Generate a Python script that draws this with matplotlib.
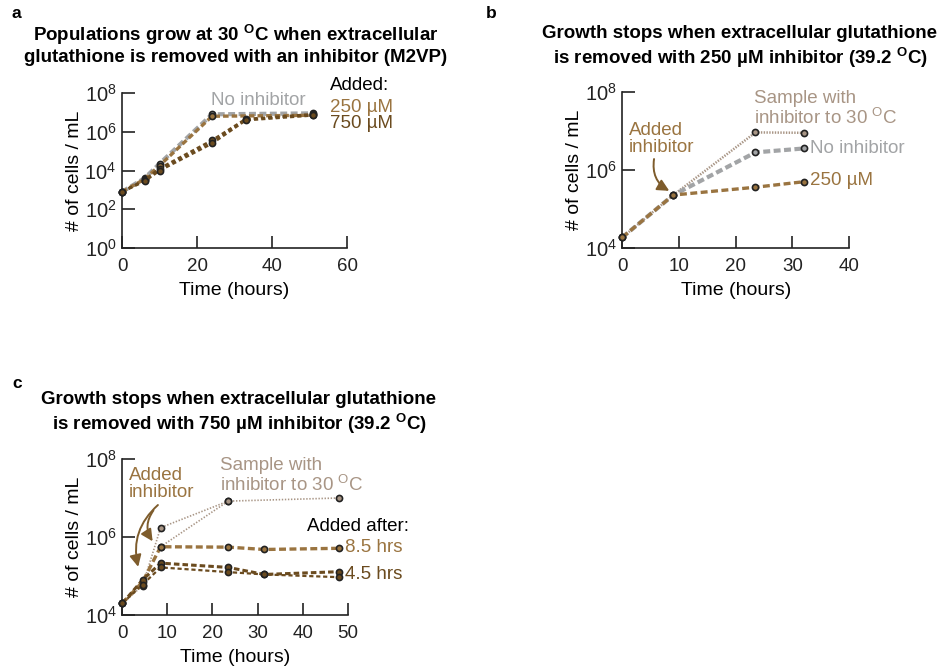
import matplotlib
matplotlib.use("Agg")
import matplotlib.pyplot as plt

plt.rcParams["font.family"] = ["Liberation Sans", "DejaVu Sans"]
plt.rcParams["mathtext.fontset"] = "custom"
plt.rcParams["mathtext.rm"] = "Liberation Sans"
plt.rcParams["mathtext.bf"] = "Liberation Sans:bold"
plt.rcParams["lines.scale_dashes"] = False

GRAY = "#a2a4a6"
LIGHT = "#9a7440"
DARK = "#6b4b1f"
TAUPE = "#a89585"
ARROW = "#7e5c2c"

# values are log10(cells / mL)
# panel a
time_a = [0, 6, 10, 24, 51]
no_inh_a = [2.9, 3.6, 4.35, 6.9, 6.95]
um250_a = [2.9, 3.55, 4.25, 6.8, 6.85]
time_a750 = [0, 6, 10, 24, 33, 51]
um750_a_rep1 = [2.9, 3.5, 4.1, 5.55, 6.65, 6.9]
um750_a_rep2 = [2.9, 3.45, 4.0, 5.4, 6.6, 6.85]

# panel b
time_b = [0, 9, 23.5, 32]
no_inh_b = [4.28, 5.36, 6.45, 6.55]
um250_b = [4.28, 5.36, 5.56, 5.70]
sample30_b = [4.28, 5.36, 6.96, 6.95]

# panel c
time_c = [0, 4.5, 8.5, 23.5, 31.5, 48]
hrs85_c = [4.3, 4.85, 5.75, 5.74, 5.68, 5.71]
hrs45_c_rep1 = [4.3, 4.9, 5.33, 5.22, 5.04, 5.11]
hrs45_c_rep2 = [4.3, 4.78, 5.22, 5.1, 5.04, 4.97]
time_c30a = [0, 4.5, 8.5, 23.5, 48]
sample30_c_a = [4.3, 4.75, 6.24, 6.92, 7.0]
time_c30b = [8.5, 23.5]
sample30_c_b = [5.75, 6.92]

W, H = 948, 666
LABEL_FS = 13.5
fig = plt.figure(figsize=(W / 100, H / 100), dpi=100)


def box(left, right, top, bottom):
    return [left / W, 1 - bottom / H, (right - left) / W, (bottom - top) / H]


def style(ax, xticks, yticks):
    ax.set_yscale("log")
    ax.set_xlim(xticks[0], xticks[-1])
    ax.set_ylim(10.0 ** yticks[0], 10.0 ** yticks[-1])
    ax.set_xticks(xticks)
    ax.set_xticklabels([str(t) for t in xticks])
    ax.set_yticks([10.0 ** e for e in yticks])
    ax.set_yticklabels([r"$\mathregular{10^{%d}}$" % e for e in yticks])
    ax.minorticks_off()
    ax.tick_params(direction="in", length=9, width=1.2, labelsize=13.5, pad=4, colors="#222")
    ax.tick_params(axis="y", labelsize=14.5)
    ax.tick_params(axis="x", pad=7)
    for s in ["top", "right"]:
        ax.spines[s].set_visible(False)
    for s in ["left", "bottom"]:
        ax.spines[s].set_linewidth(1.2)
        ax.spines[s].set_color("#222")
    ax.set_xlabel("Time (hours)", fontsize=14, labelpad=5)
    ax.set_ylabel("# of cells / mL", fontsize=14, labelpad=1)
    ax.patch.set_alpha(0)


def series(ax, t, logv, color, lw, dashes, ms=4.4):
    ax.plot(t, [10.0 ** v for v in logv], color=color, lw=lw, dashes=dashes,
            marker="o", ms=ms, mfc=color, mec="#222", mew=1.2, clip_on=False, zorder=3)


def label(ax, x, logy, text, color, **kw):
    ax.text(x, 10 ** logy, text, color=color, fontsize=LABEL_FS, ha="left", va="center",
            linespacing=1.0, **kw)


def arrow(ax, head, tail, rad):
    ax.annotate("", xy=(head[0], 10 ** head[1]), xytext=(tail[0], 10 ** tail[1]),
                arrowprops=dict(arrowstyle="-|>,head_length=0.7,head_width=0.35", color=ARROW,
                                lw=1.4, shrinkA=0, shrinkB=1,
                                connectionstyle="arc3,rad=%s" % rad))


# ---- panel a ----
ax = fig.add_axes(box(122, 347, 93, 248))
series(ax, time_a, no_inh_a, GRAY, 3.0, (5, 2.5))
series(ax, time_a, um250_a, LIGHT, 2.4, (4, 2.2))
series(ax, time_a750, um750_a_rep1, DARK, 2.0, (3, 2.2))
series(ax, time_a750, um750_a_rep2, DARK, 2.0, (3, 2.2))
style(ax, [0, 20, 40, 60], [0, 2, 4, 6, 8])
ax.text(36.3, 10 ** 7.63, "No inhibitor", color=GRAY, fontsize=LABEL_FS, ha="center", va="center")
label(ax, 55.5, 8.4, "Added:", "black", clip_on=False)
label(ax, 55.5, 7.27, "250 µM", LIGHT)
label(ax, 55.5, 6.44, "750 µM", DARK)
fig.text(236 / W, 1 - 44 / H,
         "Populations grow at 30 $^{\\mathbf{O}}$C when extracellular\n"
         "glutathione is removed with an inhibitor (M2VP)",
         ha="center", va="center", fontsize=13.5, fontweight="bold", linespacing=1.12)
fig.text(12 / W, 1 - 13 / H, "a", fontsize=12.5, fontweight="bold", va="center")

# ---- panel b ----
ax = fig.add_axes(box(622.3, 849, 91.7, 248.3))
series(ax, time_b, sample30_b, TAUPE, 1.8, (1, 1))
series(ax, time_b, no_inh_b, GRAY, 3.0, (5, 2.5))
series(ax, time_b, um250_b, LIGHT, 2.4, (5, 2.5))
style(ax, [0, 10, 20, 30, 40], [4, 6, 8])
label(ax, 23.2, 7.55, "Sample with\ninhibitor to 30 $^{\\mathrm{O}}$C", TAUPE)
label(ax, 33.2, 6.56, "No inhibitor", GRAY)
label(ax, 33.2, 5.72, "250 µM", LIGHT)
label(ax, 1.2, 6.79, "Added\ninhibitor", LIGHT)
arrow(ax, (8.5, 5.45), (5.6, 6.28), 0.35)
fig.text(740 / W, 1 - 47.5 / H,
         "Growth stops when extracellular glutathione\n"
         "is removed with 250 µM inhibitor (39.2 $^{\\mathbf{O}}$C)",
         ha="center", va="center", fontsize=13.5, fontweight="bold", linespacing=1.12)
fig.text(486 / W, 1 - 13 / H, "b", fontsize=12.5, fontweight="bold", va="center")

# ---- panel c ----
ax = fig.add_axes(box(122.3, 347.7, 459, 615))
series(ax, time_c30a, sample30_c_a, TAUPE, 1.2, (1, 1.2))
series(ax, time_c30b, sample30_c_b, TAUPE, 1.2, (1, 1.2))
series(ax, time_c, hrs85_c, LIGHT, 2.4, (5, 2.5))
series(ax, time_c, hrs45_c_rep1, DARK, 2.2, (4, 2.2))
series(ax, time_c, hrs45_c_rep2, DARK, 1.6, (3, 2))
style(ax, [0, 10, 20, 30, 40, 50], [4, 6, 8])
label(ax, 21.7, 7.56, "Sample with\ninhibitor to 30 $^{\\mathrm{O}}$C", TAUPE)
label(ax, 40.9, 6.26, "Added after:", "black")
label(ax, 49.4, 5.74, "8.5 hrs", LIGHT)
label(ax, 49.4, 5.05, "4.5 hrs", DARK)
label(ax, 1.5, 7.36, "Added\ninhibitor", LIGHT)
arrow(ax, (3.6, 5.2), (7.9, 6.82), 0.3)
arrow(ax, (6.9, 5.86), (6.9, 6.68), 0.35)
fig.text(239 / W, 1 - 413.5 / H,
         "Growth stops when extracellular glutathione\n"
         "is removed with 750 µM inhibitor (39.2 $^{\\mathbf{O}}$C)",
         ha="center", va="center", fontsize=13.5, fontweight="bold", linespacing=1.12)
fig.text(12 / W, 1 - 383 / H, "c", fontsize=12.5, fontweight="bold", va="center")

fig.savefig("out.png", dpi=100, facecolor="white")
